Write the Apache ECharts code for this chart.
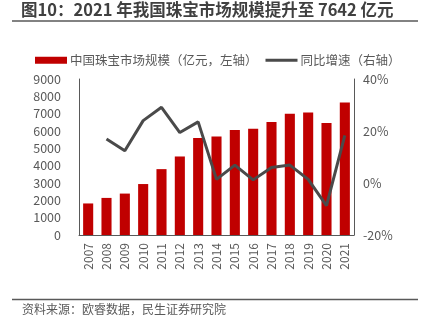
<!DOCTYPE html>
<html><head><meta charset="utf-8">
<script src="https://cdn.jsdelivr.net/npm/echarts@6/dist/echarts.min.js"></script>
<style>html,body{margin:0;padding:0;background:#fff}#c{width:428px;height:322px}</style>
</head><body><div id="c"></div>
<script>
var years = ['2007','2008','2009','2010','2011','2012','2013','2014','2015','2016','2017','2018','2019','2020','2021'];
var marketSize = [1820, 2140, 2390, 2940, 3800, 4530, 5600, 5680, 6060, 6130, 6520, 6990, 7070, 6460, 7642];
var yoyGrowth = [null, 16.9, 12.4, 24.0, 29.1, 19.4, 23.5, 1.4, 6.9, 1.2, 6.0, 6.9, 1.4, -8.7, 18.3];
var leftTicks = [0, 9000, 1000];
var rightTicks = [-20, 40, 20];
var seriesNames = ['中国珠宝市场规模（亿元，左轴）', '同比增速（右轴）'];
var titleText = '图10：2021 年我国珠宝市场规模提升至 7642 亿元';
var sourceText = '资料来源：欧睿数据，民生证券研究院';

var font = '"Noto Sans CJK SC", "Noto Sans", sans-serif';
var chart = echarts.init(document.getElementById('c'));
chart.setOption({
  animation: false,
  textStyle: {fontFamily: font},
  graphic: [
    {type: 'text', left: 21, top: 1, style: {text: titleText, font: 'bold 16.5px ' + font, fill: '#404040'}},
    {type: 'line', shape: {x1: 12, y1: 21, x2: 418, y2: 21}, style: {stroke: '#595959', lineWidth: 1.5}},
    {type: 'line', shape: {x1: 12, y1: 299.5, x2: 418, y2: 299.5}, style: {stroke: '#595959', lineWidth: 1.5}},
    {type: 'text', left: 22, top: 303, style: {text: sourceText, font: '12px ' + font, fill: '#595959'}}
  ],
  legend: {
    top: 49, left: 30, itemGap: 8, itemWidth: 32, itemHeight: 7,
    textStyle: {fontSize: 12.5, color: '#595959', fontFamily: font, padding: [0,0,0,-2]},
    data: [
      {name: seriesNames[0], icon: 'rect'},
      {name: seriesNames[1], icon: 'path://M0,0 L32,0 L32,3 L0,3 Z', itemStyle: {color: '#4a4a4a'}}
    ]
  },
  grid: {left: 79, right: 74, top: 79, bottom: 87, containLabel: false},
  xAxis: {
    type: 'category', data: years,
    axisLine: {lineStyle: {color: '#595959', width: 1}},
    axisTick: {show: false},
    axisLabel: {rotate: 90, color: '#595959', fontSize: 12, margin: 8, fontFamily: font}
  },
  yAxis: [
    {type: 'value', min: leftTicks[0], max: leftTicks[1], interval: leftTicks[2],
     axisLine: {show: true, lineStyle: {color: '#595959'}}, axisTick: {show: false},
     splitLine: {show: false},
     axisLabel: {color: '#595959', fontSize: 12.5, margin: 18, fontFamily: font, formatter: function (v) { return String(v); }}},
    {type: 'value', min: rightTicks[0], max: rightTicks[1], interval: rightTicks[2],
     axisLine: {show: true, lineStyle: {color: '#595959'}}, axisTick: {show: false},
     splitLine: {show: false},
     axisLabel: {color: '#595959', fontSize: 12.5, margin: 9, formatter: '{value}%', fontFamily: font}}
  ],
  series: [
    {name: seriesNames[0], type: 'bar', data: marketSize, barWidth: '55%',
     itemStyle: {color: '#C00000'}},
    {name: seriesNames[1], type: 'line', yAxisIndex: 1, data: yoyGrowth,
     symbol: 'none', lineStyle: {color: '#4a4a4a', width: 3}, itemStyle: {color: '#4a4a4a'}}
  ]
});
</script></body></html>
